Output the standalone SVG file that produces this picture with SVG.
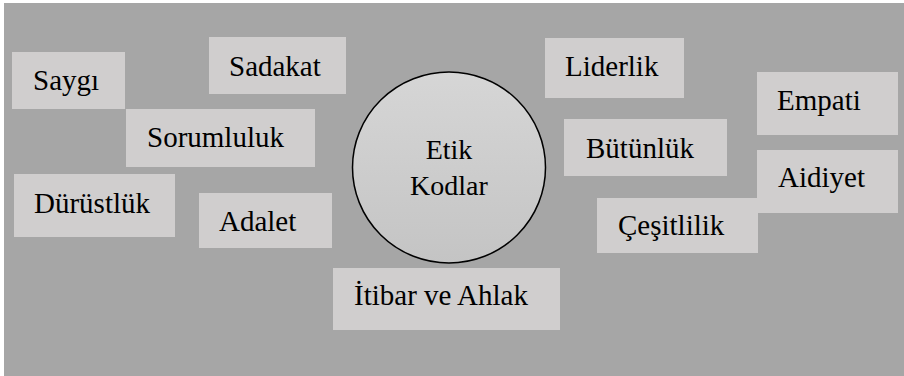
<svg xmlns="http://www.w3.org/2000/svg" width="904" height="376" viewBox="0 0 904 376">
<style>
.box{fill:#d0cece;}
.t{font-size:29px;fill:#000;}
.c{font-size:28px;fill:#000;text-anchor:middle;}
</style>
<defs>
<linearGradient id="cg" x1="0" y1="0" x2="0" y2="1">
<stop offset="0" stop-color="#d6d6d6"/>
<stop offset="1" stop-color="#c4c4c4"/>
</linearGradient>
</defs>
<rect x="0" y="0" width="904" height="376" fill="#ffffff"/>
<rect id="background" x="4" y="3" width="900" height="373" fill="#a6a6a6"/>
<g id="connectors"></g>
<g font-family="Liberation Serif, Times New Roman, DejaVu Serif, serif">
<g id="n-saygi"><rect class="box" x="12" y="52" width="113" height="57"/><text class="t" x="33" y="90">Saygı</text></g>
<g id="n-sadakat"><rect class="box" x="209" y="37" width="137" height="57"/><text class="t" x="229" y="76">Sadakat</text></g>
<g id="n-sorumluluk"><rect class="box" x="126" y="109" width="189" height="58"/><text class="t" x="147" y="147">Sorumluluk</text></g>
<g id="n-durustluk"><rect class="box" x="14" y="174" width="161" height="63"/><text class="t" x="34" y="213">Dürüstlük</text></g>
<g id="n-adalet"><rect class="box" x="199" y="193" width="133" height="55"/><text class="t" x="219" y="231">Adalet</text></g>
<g id="n-liderlik"><rect class="box" x="545" y="38" width="139" height="60"/><text class="t" x="565" y="76">Liderlik</text></g>
<g id="n-empati"><rect class="box" x="757" y="72" width="141" height="63"/><text class="t" x="777" y="110">Empati</text></g>
<g id="n-butunluk"><rect class="box" x="564" y="119" width="163" height="57"/><text class="t" x="586" y="158">Bütünlük</text></g>
<g id="n-aidiyet"><rect class="box" x="757" y="150" width="141" height="63"/><text class="t" x="778" y="187">Aidiyet</text></g>
<g id="n-cesitlilik"><rect class="box" x="597" y="198" width="161" height="55"/><text class="t" x="618" y="235">Çeşitlilik</text></g>
<g id="n-itibar"><rect class="box" x="333" y="268" width="227" height="62"/><text class="t" x="354" y="305">İtibar ve Ahlak</text></g>
<g id="n-etik"><ellipse cx="449" cy="167.5" rx="96.5" ry="95.5" fill="url(#cg)" stroke="#000" stroke-width="1.5"/><text class="c" x="449" y="159">Etik</text><text class="c" x="449" y="195">Kodlar</text></g>
</g>
</svg>
